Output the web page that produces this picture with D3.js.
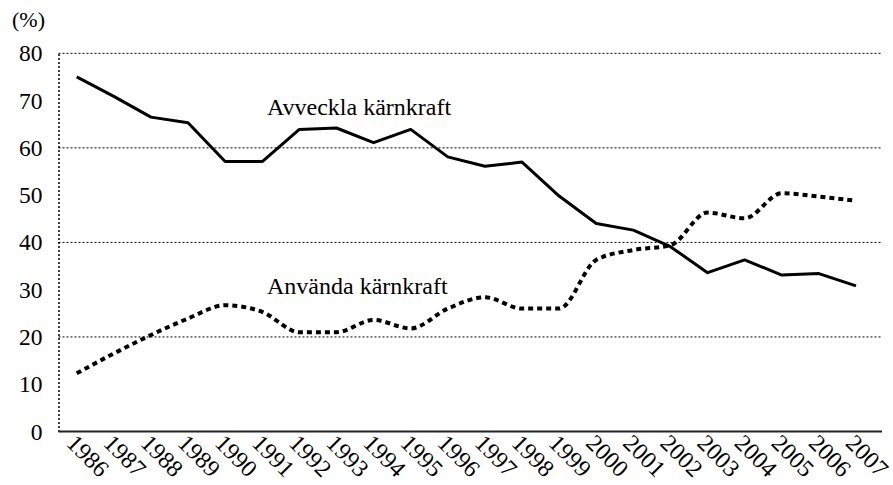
<!DOCTYPE html>
<html>
<head>
<meta charset="utf-8">
<script src="https://cdn.jsdelivr.net/npm/d3@7"></script>
<style>
  body { margin: 0; background: #fff; }
  text { font-family: "Liberation Serif", "Times New Roman", serif; fill: #000; }
</style>
</head>
<body>
<div id="chart-area"></div>
<script>
const years = ['1986', '1987', '1988', '1989', '1990', '1991', '1992', '1993', '1994', '1995', '1996',
  '1997', '1998', '1999', '2000', '2001', '2002', '2003', '2004', '2005', '2006', '2007'];
const avveckla = [75.0, 70.9, 66.5, 65.3, 57.1, 57.1, 63.9, 64.2, 61.1, 63.9, 58.1,
  56.1, 57.0, 49.8, 44.0, 42.6, 39.1, 33.6, 36.3, 33.1, 33.4, 30.8];
const anvanda = [12.3, 16.5, 20.4, 23.9, 26.7, 25.3, 21.0, 21.0, 23.6, 21.8, 26.0,
  28.4, 26.0, 26.0, 36.3, 38.4, 39.4, 46.3, 45.1, 50.4, 49.7, 48.8];
const yTicks = [0, 10, 20, 30, 40, 50, 60, 70, 80];
const gridValues = [20, 40, 60, 80];

const widthSvg = 893;
const heightSvg = 485;
const plot = { left: 58.5, right: 882, top: 53.3, bottom: 431.5 };

const svg = d3.select('#chart-area').append('svg')
  .attr('width', widthSvg)
  .attr('height', heightSvg);

const scaleX = d3.scalePoint()
  .domain(years)
  .range([76.7, 856]);

const scaleY = d3.scaleLinear()
  .domain([0, 80])
  .range([plot.bottom, plot.top]);

// dotted gridlines
svg.append('g')
  .selectAll('line')
  .data(gridValues)
  .enter().append('line')
    .attr('x1', plot.left)
    .attr('x2', plot.right)
    .attr('y1', d => scaleY(d))
    .attr('y2', d => scaleY(d))
    .attr('stroke', '#000')
    .attr('stroke-width', 1)
    .attr('stroke-dasharray', '2,2');

// y axis (dotted domain line)
const axisY = d3.axisLeft(scaleY)
  .tickValues(yTicks)
  .tickSize(0)
  .tickPadding(16);

const axisGroupY = svg.append('g')
  .attr('transform', `translate(${plot.left}, 0)`)
  .call(axisY);
axisGroupY.select('.domain')
  .attr('stroke', '#000')
  .attr('stroke-width', 1.5)
  .attr('stroke-dasharray', '2,2');
axisGroupY.selectAll('text')
  .attr('font-size', '23.5px');

svg.append('text')
  .text('(%)')
  .attr('x', 12)
  .attr('y', 27)
  .attr('font-size', '22px');

// x axis
const axisX = d3.axisBottom(scaleX).tickSize(0);
const axisGroupX = svg.append('g')
  .attr('transform', `translate(0, ${plot.bottom})`)
  .call(axisX);
axisGroupX.select('.domain').remove();
axisGroupX.selectAll('text')
  .attr('font-size', '24px')
  .attr('text-anchor', 'start')
  .attr('y', 0)
  .attr('dy', 0)
  .attr('transform', `translate(-12, 13) rotate(45)`);

svg.append('line')
  .attr('x1', plot.left)
  .attr('x2', plot.right)
  .attr('y1', scaleY(0))
  .attr('y2', scaleY(0))
  .attr('stroke', '#222')
  .attr('stroke-width', 2);

// lines
const solidLine = d3.line()
  .x((d, i) => scaleX(years[i]))
  .y(d => scaleY(d));

const dottedLine = d3.line()
  .x((d, i) => scaleX(years[i]))
  .y(d => scaleY(d))
  .curve(d3.curveMonotoneX);

svg.append('path')
  .datum(avveckla)
  .attr('d', solidLine)
  .attr('fill', 'none')
  .attr('stroke', '#000')
  .attr('stroke-width', 3)
  .attr('stroke-linejoin', 'round');

svg.append('path')
  .datum(anvanda)
  .attr('d', dottedLine)
  .attr('fill', 'none')
  .attr('stroke', '#000')
  .attr('stroke-width', 4)
  .attr('stroke-dasharray', '5,4');

// series labels
svg.append('text')
  .text('Avveckla kärnkraft')
  .attr('x', 267)
  .attr('y', 115)
  .attr('font-size', '24px');

svg.append('text')
  .text('Använda kärnkraft')
  .attr('x', 267)
  .attr('y', 294)
  .attr('font-size', '24px');
</script>
</body>
</html>
